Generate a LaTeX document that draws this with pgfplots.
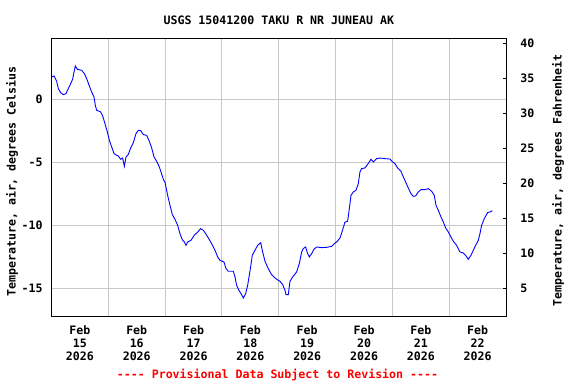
\documentclass[border=0pt]{standalone}
\usepackage{fontspec}
\setmainfont{DejaVu Sans Mono}
\usepackage{pgfplots}
\pgfplotsset{compat=1.18}
\newcommand\usgsfont{\fontsize{11.6bp}{12.8bp}\selectfont\bfseries}
\definecolor{gridgray}{RGB}{200,200,200}
\begin{document}
\begin{tikzpicture}[x=1bp,y=1bp]
\path[use as bounding box] (0,0) rectangle (576,384);
\begin{axis}[
  at={(51.5bp,68bp)}, anchor=south west, scale only axis,
  width=454.6bp, height=277bp,
  xmin=0, xmax=8, ymin=-17.198, ymax=4.786,
  xtick={0.5,1.5,2.5,3.5,4.5,5.5,6.5,7.5},
  xticklabels={{Feb\\15\\2026},{Feb\\16\\2026},{Feb\\17\\2026},{Feb\\18\\2026},{Feb\\19\\2026},{Feb\\20\\2026},{Feb\\21\\2026},{Feb\\22\\2026}},
  minor xtick={1,2,3,4,5,6,7},
  xminorgrids=true,
  ytick={-15,-10,-5,0},
  ymajorgrids=true,
  major tick length=0pt, minor tick length=0pt,
  grid style={color=gridgray, line width=1bp},
  minor grid style={color=gridgray, line width=1bp},
  axis line style={line width=1bp},
  /pgf/number format/assume math mode=true,
  xticklabel style={font=\usgsfont, align=center, inner sep=0pt, anchor=north, yshift=-9.5bp},
  yticklabel style={font=\usgsfont, inner sep=0pt, anchor=east, xshift=-8.8bp},
]
\addplot[color={rgb,255:red,0;green,0;blue,255}, line width=0.9bp] coordinates {
(0.003,1.77) (0.044,1.85) (0.091,1.43) (0.120,0.85) (0.161,0.53) (0.208,0.37)
(0.255,0.45) (0.296,0.85) (0.337,1.24) (0.372,1.59) (0.396,2.17) (0.419,2.65)
(0.455,2.38) (0.531,2.30) (0.578,2.04) (0.619,1.64) (0.666,1.06) (0.707,0.58)
(0.748,0.19) (0.771,-0.48) (0.795,-0.87) (0.865,-1.00) (0.900,-1.32) (0.941,-1.93)
(0.982,-2.59) (1.018,-3.25) (1.059,-3.78) (1.100,-4.31) (1.147,-4.44) (1.176,-4.50)
(1.217,-4.76) (1.252,-4.66) (1.282,-5.32) (1.311,-4.58) (1.352,-4.37) (1.393,-3.86)
(1.440,-3.44) (1.487,-2.72) (1.528,-2.46) (1.569,-2.49) (1.616,-2.80) (1.675,-2.86)
(1.721,-3.33) (1.763,-3.86) (1.804,-4.58) (1.851,-4.92) (1.897,-5.37) (1.927,-5.77)
(1.968,-6.35) (1.997,-6.58) (2.044,-7.62) (2.085,-8.41) (2.126,-9.15) (2.173,-9.52)
(2.220,-10.00) (2.261,-10.66) (2.302,-11.14) (2.337,-11.32) (2.367,-11.59) (2.396,-11.32)
(2.455,-11.19) (2.513,-10.79) (2.584,-10.48) (2.625,-10.26) (2.672,-10.40) (2.713,-10.66)
(2.760,-11.00) (2.818,-11.46) (2.877,-11.98) (2.924,-12.51) (2.965,-12.78) (3.035,-12.91)
(3.071,-13.44) (3.112,-13.65) (3.200,-13.65) (3.229,-14.10) (3.258,-14.76) (3.299,-15.16)
(3.346,-15.50) (3.375,-15.77) (3.417,-15.42) (3.452,-14.76) (3.481,-13.97) (3.510,-13.12)
(3.534,-12.38) (3.581,-11.98) (3.628,-11.59) (3.681,-11.38) (3.716,-12.12) (3.757,-12.86)
(3.815,-13.44) (3.874,-13.92) (3.933,-14.18) (3.991,-14.37) (4.021,-14.44) (4.068,-14.71)
(4.109,-15.16) (4.126,-15.50) (4.167,-15.50) (4.197,-14.44) (4.244,-14.10) (4.314,-13.70)
(4.361,-13.04) (4.402,-12.12) (4.431,-11.85) (4.472,-11.72) (4.502,-12.17) (4.537,-12.51)
(4.578,-12.25) (4.619,-11.90) (4.666,-11.72) (4.754,-11.77) (4.842,-11.75) (4.930,-11.67)
(4.977,-11.46) (5.030,-11.27) (5.077,-11.00) (5.112,-10.53) (5.165,-9.74) (5.211,-9.68)
(5.241,-8.68) (5.270,-7.62) (5.311,-7.35) (5.358,-7.22) (5.399,-6.69) (5.428,-5.77)
(5.458,-5.50) (5.516,-5.45) (5.558,-5.19) (5.593,-4.97) (5.622,-4.76) (5.663,-4.97)
(5.722,-4.71) (5.780,-4.66) (5.868,-4.71) (5.956,-4.74) (6.003,-4.97) (6.044,-5.10)
(6.091,-5.45) (6.150,-5.71) (6.191,-6.16) (6.232,-6.56) (6.279,-7.04) (6.326,-7.49)
(6.367,-7.70) (6.408,-7.67) (6.455,-7.35) (6.502,-7.17) (6.572,-7.17) (6.631,-7.09)
(6.690,-7.30) (6.736,-7.62) (6.766,-8.41) (6.807,-8.81) (6.854,-9.34) (6.895,-9.74)
(6.936,-10.21) (6.983,-10.53) (7.030,-10.93) (7.071,-11.27) (7.129,-11.59) (7.188,-12.12)
(7.247,-12.20) (7.288,-12.38) (7.335,-12.70) (7.382,-12.38) (7.423,-11.98) (7.464,-11.59)
(7.511,-11.19) (7.540,-10.66) (7.569,-10.00) (7.616,-9.47) (7.675,-8.99) (7.716,-8.94)
(7.757,-8.84)
};
\end{axis}
\begin{axis}[
  at={(51.5bp,68bp)}, anchor=south west, scale only axis,
  width=454.6bp, height=277bp,
  xmin=0, xmax=8, ymin=1.044, ymax=40.615,
  axis x line=none, axis y line*=right,
  ytick={5,10,15,20,25,30,35,40},
  tick align=inside, major tick length=3bp,
  tick style={line width=1bp, black},
  axis line style={line width=1bp},
  /pgf/number format/assume math mode=true,
  yticklabel style={font=\usgsfont, inner sep=0pt, anchor=west, xshift=14bp},
]
\addplot[draw=none] coordinates {(0,10) (8,10)};
\end{axis}
\node[font=\usgsfont, inner sep=0pt] at (278.8,364) {USGS 15041200 TAKU R NR JUNEAU AK};
\node[font=\usgsfont, inner sep=0pt, rotate=90] at (12,202.5) {Temperature, air, degrees Celsius};
\node[font=\usgsfont, inner sep=0pt, rotate=90] at (558,203.3) {Temperature, air, degrees Fahrenheit};
\node[font=\usgsfont, inner sep=0pt, text={rgb,255:red,255;green,0;blue,0}] at (277.5,9) {-{}-{}-{}- Provisional Data Subject to Revision -{}-{}-{}-};
\end{tikzpicture}
\end{document}
